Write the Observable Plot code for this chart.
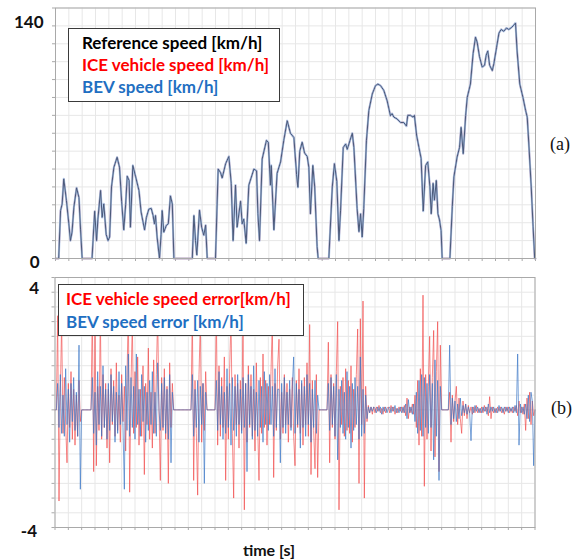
<!DOCTYPE html>
<html><head><meta charset="utf-8">
<script src="https://cdn.jsdelivr.net/npm/d3@7"></script>
<script src="https://cdn.jsdelivr.net/npm/@observablehq/plot@0.6"></script>
<style>
body{margin:0;background:#fff;}
#wrap{position:relative;width:579px;height:560px;background:#fff;font-family:Lato,"Noto Sans",sans-serif;overflow:hidden;}
#topPanel,#botPanel{position:absolute;left:0;}
#topPanel{top:0}
#botPanel{top:276px}
.legend{position:absolute;background:#fff;border:1.5px solid #3a3a3a;font-weight:bold;font-size:17px;box-sizing:border-box;white-space:nowrap;}
.lab{position:absolute;font-family:"Liberation Serif",serif;font-size:18px;color:#111;}
#xlab{position:absolute;left:0;width:538px;text-align:center;top:540px;font-weight:bold;font-size:16px;color:#111;}
</style></head>
<body>
<div id="wrap">
  <div id="topPanel"></div>
  <div id="botPanel"></div>
  <div class="legend" style="left:68px;top:28px;width:212px;height:74px;padding:3px 0 0 13px;line-height:22px;">
    <div style="color:#000">Reference speed [km/h]</div>
    <div style="color:#ff0000">ICE vehicle speed [km/h]</div>
    <div style="color:#1f6fc2">BEV speed [km/h]</div>
  </div>
  <div class="legend" style="left:58px;top:284px;width:246px;height:52px;padding:2px 0 0 7px;line-height:23px;">
    <div style="color:#ff0000">ICE vehicle speed error[km/h]</div>
    <div style="color:#1f6fc2">BEV speed error [km/h]</div>
  </div>
  <div class="lab" style="left:550px;top:134px;">(a)</div>
  <div class="lab" style="left:551px;top:398px;">(b)</div>
  <div id="xlab">time [s]</div>
</div>
<script>
// ---- speed profile (reference; ICE and BEV follow it almost exactly) ----
const speedTime = [0,12,19,25,31,41,50,56,62,69,79,88,94,100,137,147,154,159,169,175,181,190,197,203,210,219,231,240,248,256,263,269,276,281,290,300,313,321,334,341,350,359,366,371,375,381,390,396,400,406,416,423,431,438,444,513,519,525,530,540,548,556,563,569,600,610,619,625,638,650,659,666,675,681,694,700,706,715,725,744,754,759,765,775,791,798,806,809,819,831,844,856,869,881,894,904,909,916,925,934,944,950,956,965,972,981,985,1025,1038,1046,1055,1063,1069,1079,1088,1094,1104,1113,1119,1131,1138,1144,1150,1156,1166,1175,1188,1200,1209,1219,1231,1244,1256,1262,1269,1281,1294,1306,1316,1321,1331,1341,1346,1354,1363,1371,1379,1388,1396,1404,1409,1416,1421,1428,1434,1440,1446,1450,1479,1488,1494,1506,1515,1521,1529,1538,1544,1556,1566,1575,1581,1590,1600,1609,1615,1621,1628,1638,1644,1654,1663,1671,1681,1691,1700,1709,1716,1725,1731,1741,1753,1763,1769,1775,1784,1791,1797,1800];
const refSpeed = [0,0,26.8,30.5,44.5,32.4,19.4,10,14.7,28.7,39.5,34,16,0,0,26.4,10,22,38,23,30.5,13.5,10,12,40,51,56.6,51,32,16,30,46,43.6,17.5,52,46,38,26,16,23,27.6,28,24,19.4,24,12,0,13.5,26.8,14.7,18.6,19.4,35,30.5,0,0,24,10,2,27,17.5,13,18.6,0,0,50,48,45,53,57,42,10,41,17.5,32,19.4,22,8.5,41,50,49,25,10,55.6,66,65,41,52,16,47.6,54,66,77,70,67.6,47,39.8,60,65,59,57,51,25,52,40,6.7,0,0,40,53,43,10,27,62,64,61,65.8,70,62,28,15,25,12,28,65.8,82.7,92,96.6,97.5,96.6,94,88,79.8,81,79,78,76,76,74,80,80,79,80,69,62,56,26.5,52,54,40,25,42,32.6,43.6,25,21.6,15.6,0,0,29,45.6,56.7,62,73.3,58.6,79.8,90,97.5,114.5,123.7,121,112.8,107,108,113.6,116,108,105,109,118,126,128,127,128.8,128,129,130,131.6,116,97.5,90,82.7,79,64,40,17.7,0,0];

// ---- speed errors, sampled every 5 s (0 ... 1800 s) ----
const errStep = 5;
const iceError = [
 0,0,3.2,-3.1,0.6,3.0,-0.8,1.1,-0.5,-1.8,0.9,-0.6,1.3,-1.0,0.7,-1.2,0.5,-0.9,1.0,-0.4,
 0,0,0,0,0,0,0,0,3.4,-2.1,3.1,-1.9,0.8,-0.7,3.3,-1.0,1.2,-0.6,0.9,-1.3,
 0.7,-1.8,1.4,-0.5,1.0,-0.9,1.6,-0.7,0.5,-1.1,1.2,-0.4,0.8,-1.4,1.1,3.5,-2.8,0.9,3.0,-0.8,
 1.3,-0.6,1.8,-1.2,0.7,-0.9,1.5,-2.2,0.9,-0.5,2.1,-1.0,0.6,-1.3,1.7,-0.8,1.2,3.2,0,-2.4,
 1.1,-0.7,1.4,-1.0,0.8,-2.5,1.6,-0.6,0.9,0,0,0,0,0,0,0,0,0,0,0,
 0,0,0,3.3,-2.4,1.0,-0.8,-2.9,1.2,3.0,-1.1,0.9,-0.7,1.3,0,0,0,0,0,0,
 0,3.4,-1.2,1.5,-0.9,1.1,-0.6,1.8,-2.4,0.8,-1.0,1.4,3.2,-0.8,-3.0,1.2,-0.5,0.9,-1.3,1.0,
 -0.7,3.1,-3.4,0.9,-1.1,1.5,-0.6,1.2,-0.9,0.7,-1.4,1.6,-0.5,-2.4,1.1,-0.8,1.9,-0.6,1.0,-1.2,
 0.8,-0.5,1.3,3.0,-2.3,0.9,-0.7,1.5,2.4,-1.0,0.6,-0.8,1.2,-0.5,0.9,-1.1,0.7,-0.6,1.1,-0.9,
 -1.9,1.0,-0.6,1.4,-0.8,0.9,-1.2,1.1,-0.5,1.6,-0.9,2.9,-2.2,1.0,-0.7,-2.0,1.2,-2.3,0,0,
 0,0,0,0,0,2.3,-1.8,1.2,-0.6,0.9,-1.0,1.3,3.0,-3.4,0.8,-0.5,1.1,-0.9,1.4,-0.7,
 1.0,-0.8,1.5,-1.1,0.7,-0.6,1.2,2.75,-2.5,3.1,-0.5,3.7,-3.0,0.8,-0.4,0.15,-0.1,0.1,-0.15,0.1,
 -0.1,0.1,-0.05,0.15,-0.1,0.05,-0.15,0.1,-0.1,0.05,0.1,-0.1,0.15,-0.05,0.1,-0.15,0.05,-0.1,0.1,-0.05,
 0.1,-0.1,0.15,-0.2,0.4,-0.3,0.1,-0.1,0.2,-0.15,0.5,-0.6,1.0,-1.2,1.4,-0.9,3.9,-2.6,1.2,-1.0,
 0.8,2.5,-1.4,1.1,2.7,-1.6,1.3,3.0,-2.1,2.2,0,0,0,0,0,0,0.6,-1.1,0.5,-0.4,
 0.3,0.8,-0.5,0.4,-0.3,-0.8,0.3,-0.2,0.2,-0.3,0.15,-0.1,0.1,-0.15,0.1,-0.1,0.15,-0.1,0.05,-0.1,
 0.1,-0.1,0.15,-0.05,0.1,-0.2,0.45,-0.3,0.1,-0.1,0.05,-0.1,0.1,-0.05,0.1,-0.1,0.05,-0.15,0.1,-0.05,
 0.1,-0.1,0.05,-0.1,0.1,-0.05,0.15,-0.2,0.3,-0.1,0.1,-0.15,0.2,-0.7,0.4,-0.3,0.6,-0.5,0.3,-0.2,
 0];
const bevError = [
 0,0,0.9,-0.6,1.2,-0.8,0.5,-0.9,1.4,-0.5,0.7,-1.1,0.9,-0.4,1.1,-0.7,0.6,-0.9,2.2,-2.7,
 0,0,0,0,0,0,0,0,1.1,-0.8,0.6,-1.2,1.3,-0.5,0.8,-0.9,1.5,-0.6,0.7,-1.0,
 0.9,-0.7,1.2,-0.4,0.8,-1.1,0.6,-0.8,1.3,-0.5,0.9,-0.6,-2.7,1.5,-0.7,1.9,-0.9,1.1,-0.6,0.8,
 -1.0,1.9,-0.5,0.7,-0.9,1.2,-0.4,0.8,-1.1,0.6,-0.7,1.0,-0.5,1.3,-0.8,0.6,-0.9,1.6,0,-0.7,
 0.9,-0.6,1.1,-0.8,0.7,-1.0,1.2,-1.8,0.6,0,0,0,0,0,0,0,0,0,0,0,
 0,0,0,1.2,-0.9,0.7,-0.6,1.0,-1.1,0.8,-0.5,0.9,-2.5,0.6,0,0,0,0,0,0,
 0,1.0,-0.7,1.3,-0.5,0.8,-1.0,0.6,-0.8,1.4,-0.6,0.9,-1.2,1.1,-0.7,0.8,-0.9,1.2,-0.5,0.7,
 -0.8,1.1,-0.6,0.9,-2.1,1.2,-0.5,0.8,-1.0,1.5,-0.7,0.6,-0.9,1.0,-0.6,0.8,-1.1,1.3,-0.5,0.9,
 -0.7,1.2,-0.5,0.8,-0.9,1.4,-0.6,0.7,0.7,-1.8,0.9,-0.6,1.1,-0.8,0.6,-0.5,1.0,-0.7,0.8,1.8,
 -0.8,0.9,-0.5,0.7,-1.3,1.0,-0.6,0.8,-0.9,1.2,-0.5,0.9,-1.1,0.7,-0.6,1.0,-0.8,0.5,0,0,
 0,0,0,0,0,0.9,-0.7,1.1,-0.5,0.8,-0.9,1.2,-1.7,0.7,-0.6,1.0,-0.8,0.6,-1.0,1.3,
 -0.6,0.8,-1.3,0.9,-0.7,1.1,-0.5,0.8,-1.0,1.8,-0.9,0.7,-0.8,0.5,-0.3,0.1,-0.1,0.1,-0.05,0.1,
 0.05,-0.1,0.1,-0.05,0.1,-0.15,0.1,-0.05,0.1,-0.1,0.05,0.1,-0.1,0.1,-0.05,0.15,-0.1,0.05,-0.1,0.1,
 -0.1,0.1,-0.1,0.2,-0.3,0.35,-0.1,0.1,-0.15,0.2,-0.4,0.6,-0.8,1.0,-0.7,1.2,-0.9,1.1,-0.6,0.9,
 -0.8,1.2,-0.6,0.9,-1.7,1.7,-0.9,1.0,-2.4,0.8,0,0,0,0,0,0,2.2,-0.5,0.4,-0.3,
 0.3,-0.4,0.2,-0.3,0.4,-0.2,0.15,-0.1,0.2,-0.15,0.1,-0.1,-1.05,0.1,-0.1,0.15,-0.05,0.1,-0.1,0.05,
 -0.1,0.1,-0.05,0.1,-0.15,0.2,-0.1,0.1,-0.05,0.1,-0.1,0.05,-0.1,0.15,-0.05,0.1,-0.1,0.1,-0.05,0.1,
 -0.1,0.1,-0.05,0.1,-0.1,0.15,-0.1,1.9,-1.2,0.2,-0.1,0.1,-0.15,0.2,-0.3,0.5,-0.4,0.6,0.3,-1.9,
 0];

// ---- axis ticks ----
const timeTicks = d3.range(0, 1801, 50);
const speedTicks = d3.range(0, 141, 10);
const errTicks = d3.range(-4, 4.51, 0.5);

const speedData = speedTime.map((t, i) => ({t, v: refSpeed[i]}));
const errData = iceError.map((v, i) => ({t: i * errStep, ice: v, bev: bevError[i]}));

const frameColor = "#a9a9a9";
const gridColor = "#e7e7e7";
const labelFont = {fontSize: 17, fontWeight: "bold", fill: "#111", fontFamily: "Lato, sans-serif", tickSize: 0, label: null, tickFormat: d => String(d)};

const speedChart = Plot.plot({
  width: 579, height: 276,
  marginLeft: 55, marginRight: 44, marginTop: 7.5, marginBottom: 18,
  x: {domain: [0, 1800]},
  y: {domain: [0, 140]},
  style: {background: "transparent"},
  marks: [
    Plot.gridX(timeTicks, {stroke: gridColor, strokeOpacity: 1}),
    Plot.gridY(speedTicks, {stroke: gridColor, strokeOpacity: 1}),
    Plot.axisX(timeTicks, {tickSize: 3, stroke: frameColor, tickFormat: () => "", label: null}),
    Plot.axisY(speedTicks, {tickSize: 3, stroke: frameColor, tickFormat: () => "", label: null}),
    Plot.axisY([140], {...labelFont, tickPadding: 12, dy: 14.5}),
    Plot.axisY([0], {...labelFont, tickPadding: 16, dy: 4}),
    Plot.line(speedData, {x: "t", y: "v", stroke: "#e03030", strokeWidth: 1.5}),
    Plot.line(speedData, {x: "t", y: "v", stroke: "#b3cbec", strokeWidth: 2.2}),
    Plot.line(speedData, {x: "t", y: "v", stroke: "#4a5878", strokeWidth: 1}),
    Plot.frame({stroke: frameColor})
  ]
});
document.getElementById("topPanel").append(speedChart);

const errorChart = Plot.plot({
  width: 579, height: 284,
  marginLeft: 54.5, marginRight: 44.5, marginTop: 1, marginBottom: 33,
  x: {domain: [0, 1800]},
  y: {domain: [-4, 4.5]},
  style: {background: "transparent"},
  marks: [
    Plot.gridX(timeTicks, {stroke: gridColor, strokeOpacity: 1}),
    Plot.gridY(errTicks, {stroke: gridColor, strokeOpacity: 1}),
    Plot.axisX(timeTicks, {tickSize: 3, stroke: frameColor, tickFormat: () => "", label: null}),
    Plot.axisY(errTicks, {tickSize: 3, stroke: frameColor, tickFormat: () => "", label: null}),
    Plot.axisY([4], {...labelFont, tickPadding: 16, dy: -4}),
    Plot.axisY([-4], {...labelFont, tickPadding: 18, dy: 4}),
    Plot.line(errData, {x: "t", y: "ice", stroke: "#f04545", strokeOpacity: 0.7, strokeWidth: 0.9}),
    Plot.line(errData, {x: "t", y: "bev", stroke: "#3473c4", strokeOpacity: 0.72, strokeWidth: 0.9}),
    Plot.frame({stroke: frameColor})
  ]
});
document.getElementById("botPanel").append(errorChart);
</script>
</body></html>
